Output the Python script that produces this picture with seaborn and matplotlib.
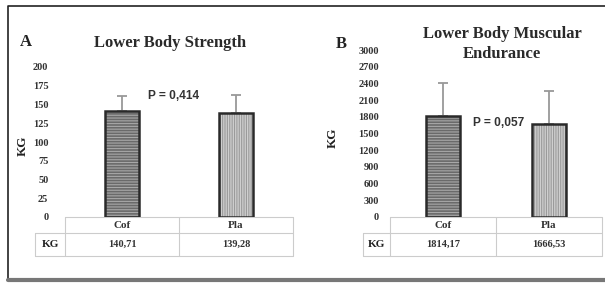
import numpy as np
import pandas as pd
import matplotlib
matplotlib.use("Agg")
import matplotlib.pyplot as plt
import seaborn as sns
from matplotlib.patches import Rectangle

# data
groups = ["Cof", "Pla"]
strength_mean = [140.71, 139.28]
strength_sd = [20.5, 24.0]
strength_labels = ["140,71", "139,28"]
endur_mean = [1814.17, 1666.53]
endur_sd = [593, 597]
endur_labels = ["1814,17", "1666,53"]
strength_ticks = [0, 25, 50, 75, 100, 125, 150, 175, 200]
endur_ticks = [0, 300, 600, 900, 1200, 1500, 1800, 2100, 2400, 2700, 3000]

W, H = 605, 283
sns.set_theme(style="white")
plt.rcParams["font.family"] = ["Liberation Serif", "DejaVu Serif"]
plt.rcParams["hatch.linewidth"] = 0.8

fig = plt.figure(figsize=(W / 100, H / 100), dpi=100)
fig.patch.set_facecolor("white")

# overlay in pixel coordinates for the frame and tables
ov = fig.add_axes([0, 0, 1, 1])
ov.set_xlim(0, W)
ov.set_ylim(H, 0)
ov.axis("off")
ov.plot([8, 8, W], [280, 6, 6], color="#222222", lw=1.2)
ov.plot([8, W], [280, 280], color="#777777", lw=3)


def px_axes(x0, y0, x1, y1):
    return fig.add_axes([x0 / W, (H - y1) / H, (x1 - x0) / W, (y1 - y0) / H])


def panel(box, means, sds, vals, ticks, width, tick_pad, letter, title,
          title_xy, letter_xy, ylab_x, ptext, p_xy, kg_x0):
    x0, y0, x1, y1 = box
    ax = px_axes(x0, y0, x1, y1)
    df = pd.DataFrame({"group": groups, "kg": means})
    sns.barplot(data=df, x="group", y="kg", ax=ax, errorbar=None,
                width=width, color="#888888", zorder=2)
    ax.set_xlim(-0.5, 1.5)
    ax.set_ylim(ticks[0], ticks[-1])
    ax.set_yticks(ticks)
    ax.tick_params(axis="y", length=0, pad=tick_pad, labelsize=7.5,
                   colors="#333333")
    for t in ax.get_yticklabels():
        t.set_fontweight("bold")
    ax.set_xticks([])
    ax.set_xlabel("")
    ax.set_ylabel("")
    for s in ax.spines.values():
        s.set_visible(False)
    ax.patch.set_alpha(0)

    styles = [("#6a6a6a", "#a8a8a8", "------"), ("#cfcfcf", "#9a9a9a", "|||||||")]
    for p, (fc, hc, hatch) in zip(ax.patches, styles):
        p.set_facecolor(fc)
        p.set_edgecolor(hc)
        p.set_hatch(hatch)
        p.set_linewidth(0)
        ax.add_patch(Rectangle((p.get_x(), p.get_y()), p.get_width(),
                               p.get_height(), fill=False,
                               edgecolor="#2a2a2a", lw=1.8, zorder=3))
    ax.errorbar(range(len(groups)), means, yerr=[np.zeros(len(sds)), sds],
                fmt="none", ecolor="#999999", elinewidth=1.3, capsize=3.5,
                capthick=1.3, zorder=1)

    ov.text(letter_xy[0], letter_xy[1], letter, fontsize=12, fontweight="bold",
            ha="left", va="center", color="#222222")
    ov.text(title_xy[0], title_xy[1], title, fontsize=12, fontweight="bold",
            ha="center", va="center", color="#2a2a2a", linespacing=1.25)
    ov.text(ylab_x, (y0 + y1) / 2 + 4, "KG", rotation=90, fontsize=9.5,
            fontweight="bold", ha="center", va="center", color="#222222")
    ov.text(p_xy[0], p_xy[1], ptext, fontsize=8.6, fontweight="bold",
            family=["Liberation Sans"], ha="left", va="center",
            color="#333333")

    # table under the axis
    xm = (x0 + x1) / 2
    r0, r1, r2 = y1, y1 + 16, y1 + 39
    gc = "#cccccc"
    ov.plot([x0, x1], [r0, r0], color=gc, lw=0.8)
    ov.plot([kg_x0, x1], [r1, r1], color=gc, lw=0.8)
    ov.plot([kg_x0, x1], [r2, r2], color=gc, lw=0.8)
    ov.plot([kg_x0, kg_x0], [r1, r2], color=gc, lw=0.8)
    for xx in (x0, xm, x1):
        ov.plot([xx, xx], [r0, r2], color=gc, lw=0.8)
    for cx, g, v in zip(((x0 + xm) / 2, (xm + x1) / 2), groups, vals):
        ov.text(cx, (r0 + r1) / 2, g, fontsize=8, fontweight="bold",
                ha="center", va="center", color="#333333")
        ov.text(cx, (r1 + r2) / 2, v, fontsize=7.5, fontweight="bold",
                ha="center", va="center", color="#333333")
    ov.text((kg_x0 + x0) / 2, (r1 + r2) / 2, "KG", fontsize=8,
            fontweight="bold", ha="center", va="center", color="#222222")


panel((65, 67, 293, 217), strength_mean, strength_sd, strength_labels,
      strength_ticks, 0.3, 12, "A", "Lower Body Strength", (170, 43),
      (20, 42), 23, "P = 0,414", (148, 96), 35)
panel((390, 50, 602, 217), endur_mean, endur_sd, endur_labels,
      endur_ticks, 0.33, 8, "B", "Lower Body Muscular\nEndurance", (502, 44),
      (336, 44), 333, "P = 0,057", (473, 123), 363)

fig.savefig("out.png", dpi=100)
